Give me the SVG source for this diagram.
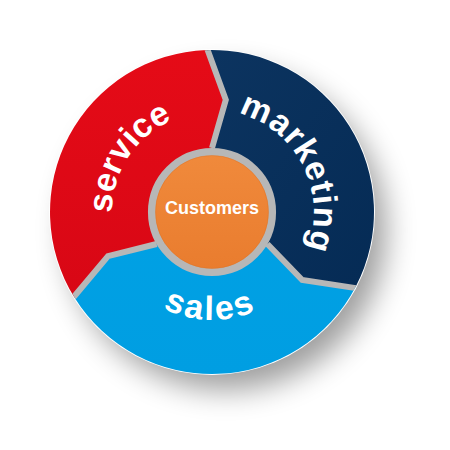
<svg xmlns="http://www.w3.org/2000/svg" width="450" height="450" viewBox="0 0 450 450">
<defs>
<filter id="sh" x="-30%" y="-30%" width="160%" height="160%"><feGaussianBlur stdDeviation="15"/></filter>
<clipPath id="disc"><circle cx="212" cy="212" r="162"/></clipPath>
<linearGradient id="gRed" x1="0" y1="0" x2="0" y2="1"><stop offset="0" stop-color="#e50b17"/><stop offset="1" stop-color="#d80715"/></linearGradient>
<linearGradient id="gNavy" x1="0" y1="0" x2="1" y2="1"><stop offset="0" stop-color="#0c3460"/><stop offset="1" stop-color="#052b55"/></linearGradient>
<linearGradient id="gBlue" x1="0" y1="0" x2="0" y2="1"><stop offset="0" stop-color="#00a1e4"/><stop offset="1" stop-color="#009ee2"/></linearGradient>
<linearGradient id="gOr" x1="0" y1="0" x2="0" y2="1"><stop offset="0" stop-color="#f08a3c"/><stop offset="1" stop-color="#e97c2e"/></linearGradient>
<path id="pService" d="M122.9,257.4 A100,100 0 0 1 217.2,112.1"/>
<path id="pMarketing" d="M215.5,110.1 A102,102 0 0 1 296.1,269.4"/>
<path id="pSales" d="M141.1,293.5 A108,108 0 0 0 280,295.9"/>
<style>
.lbl{font-family:"Liberation Sans",Arial,sans-serif;font-weight:bold;fill:#ffffff}
.seg-label{font-size:34px}
.sep{fill:none;stroke:#b7b7b7;stroke-width:6;stroke-linejoin:miter}
</style>
</defs>
<circle cx="226" cy="230" r="160" fill="#000" opacity="0.38" filter="url(#sh)"/>
<circle cx="212" cy="212" r="163" fill="#ffffff"/>
<g id="service">
<path d="M212,212 L156.6,244 L108,256.1 L74.6,297.8 A162,162 0 0 1 206.35,50.1 L225.8,99.8 L212,148 Z" fill="url(#gRed)"/>
<text class="lbl seg-label"><textPath href="#pService" startOffset="50%" text-anchor="middle">service</textPath></text>
</g>
<g id="marketing">
<path d="M212,212 L212,148 L225.8,99.8 L206.35,50.1 A162,162 0 0 1 355.7,286.8 L302.2,280 L267.4,244 Z" fill="url(#gNavy)"/>
<text class="lbl seg-label" letter-spacing="1"><textPath href="#pMarketing" startOffset="50%" text-anchor="middle">marketing</textPath></text>
</g>
<g id="sales">
<path d="M212,212 L267.4,244 L302.2,280 L355.7,286.8 A162,162 0 0 1 74.6,297.8 L108,256.1 L156.6,244 Z" fill="url(#gBlue)"/>
<text class="lbl seg-label" letter-spacing="2.5"><textPath href="#pSales" startOffset="50%" text-anchor="middle">sales</textPath></text>
</g>
<g id="connectors" clip-path="url(#disc)">
<polyline class="sep" points="212,148 225.8,99.8 206.2,46.1"/>
<polyline class="sep" points="267.4,244 302.2,280 359.2,288.6"/>
<polyline class="sep" points="156.6,244 108,256.1 71.2,300"/>
</g>
<g id="customers">
<circle cx="212" cy="212" r="60.3" fill="url(#gOr)" stroke="#b7b7b7" stroke-width="7.5"/>
<circle cx="212" cy="212" r="56.5" fill="none" stroke="#e07426" stroke-width="0.8" opacity="0.6"/>
<text class="lbl" x="212" y="214" font-size="18" text-anchor="middle">Customers</text>
</g>
</svg>
